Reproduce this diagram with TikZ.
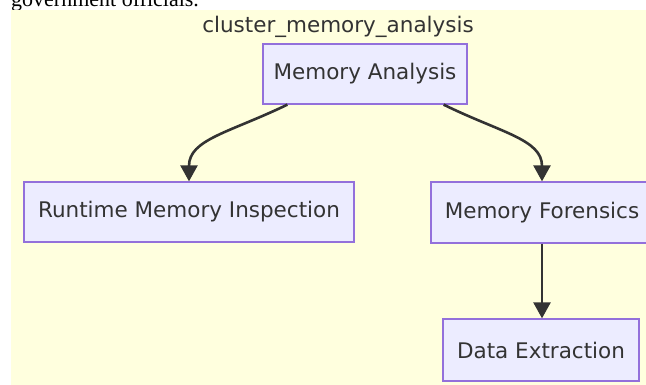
\documentclass[tikz,border=0pt]{standalone}
\usepackage{fontspec}
\setmainfont{DejaVu Sans}
\newfontfamily\bodyserif{Liberation Serif}
\usetikzlibrary{arrows.meta}
\definecolor{clusterfill}{HTML}{FFFFDE}
\definecolor{nodefill}{HTML}{ECECFF}
\definecolor{nodeline}{HTML}{9370DB}
\definecolor{ink}{HTML}{333333}

\begin{document}
\begin{tikzpicture}[x=1pt,y=-1pt,
  box/.style={draw=nodeline, fill=nodefill, line width=1.3pt, text=ink,
    font=\fontsize{21.5}{26}\selectfont, inner sep=0pt, minimum height=60pt},
  flow/.style={draw=ink, line width=2.6pt, -{Triangle[length=16pt,width=17pt]}}]
\useasboundingbox (0,0) rectangle (646,385);

% trailing line of the paragraph above the diagram
\node[anchor=base west, inner sep=0pt, font=\bodyserif\fontsize{22}{26}\selectfont] (prevline) at (11,7) {government officials.};

% cluster background and its title
\fill[clusterfill] (11,10) rectangle (646,385);
\node[anchor=base, inner sep=0pt, text=ink, font=\fontsize{21.5}{26}\selectfont] (clabel) at (338,33) {cluster\_memory\_analysis};

% nodes
\node[box, minimum width=204pt] (ma) at (365,74) {Memory Analysis};
\node[box, minimum width=330pt] (rmi) at (189,212) {Runtime Memory Inspection};
\node[box, minimum width=222pt, minimum height=61pt] (mf) at (542,212.5) {Memory Forensics};
\node[box, minimum width=196pt, minimum height=62pt] (de) at (541,350) {Data Extraction};

% connectors
\draw[flow] ([xshift=25pt]ma.south west) .. controls +(-58,28) and +(0,-42) .. (rmi.north);
\draw[flow] ([xshift=-24pt]ma.south east) .. controls +(57,28) and +(0,-42) .. (mf.north);
\draw[flow] (mf.south) -- (mf.south |- de.north);
\end{tikzpicture}
\end{document}
